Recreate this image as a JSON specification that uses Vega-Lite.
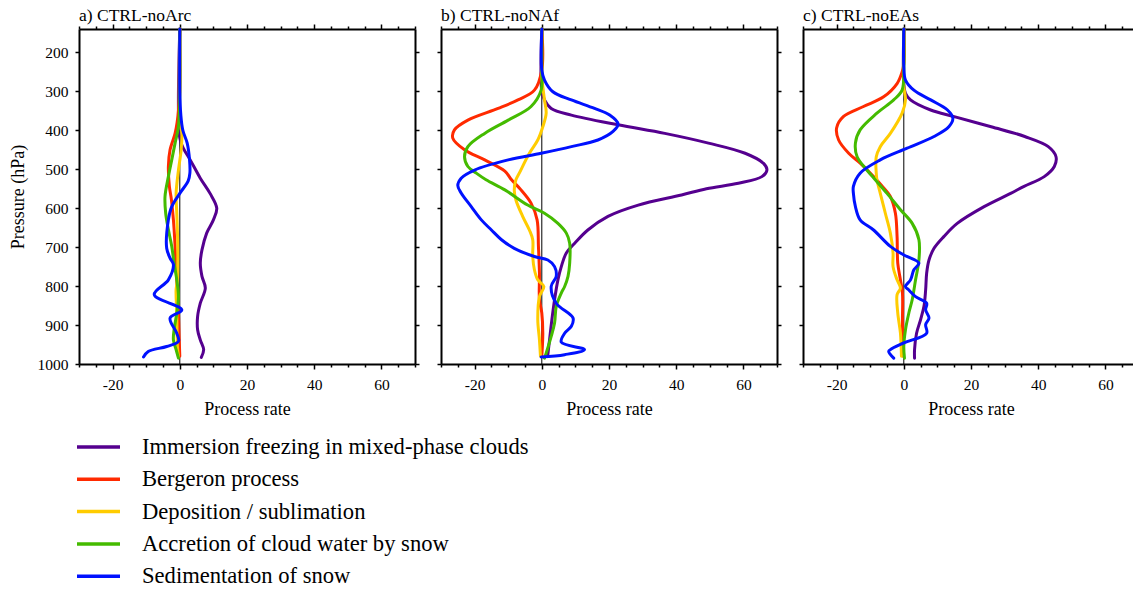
{
  "$schema": "https://vega.github.io/schema/vega-lite/v6.json",
  "background": "white",
  "padding": {"left": 9, "top": 6, "right": 0, "bottom": 0},
  "config": {
    "font": "Liberation Serif",
    "view": {"stroke": null},
    "title": {"font": "Liberation Serif", "fontSize": 17.5, "fontWeight": "normal", "anchor": "start", "frame": "group", "color": "black", "offset": -1},
    "axis": {"grid": false, "domainColor": "black", "domainWidth": 2, "tickColor": "black", "tickWidth": 1.5, "labelFont": "Liberation Serif", "labelFontSize": 15.5, "labelColor": "black", "titleFont": "Liberation Serif", "titleFontSize": 18, "titleFontWeight": "normal", "titleColor": "black", "labelOverlap": false},
    "legend": {"orient": "none", "legendX": -4, "legendY": 406, "symbolType": "stroke", "symbolSize": 1849, "symbolStrokeWidth": 3.5, "labelFont": "Liberation Serif", "labelFontSize": 22.6, "labelColor": "black", "labelOffset": 20, "clipHeight": 24, "rowPadding": 8.3, "labelLimit": 600}
  },
  "datasets": {
    "d": [
      {"k":"a","s":"IMM","p":140,"v":0},{"k":"a","s":"IMM","p":420,"v":0},{"k":"a","s":"IMM","p":445,"v":1},{"k":"a","s":"IMM","p":476,"v":3.1},{"k":"a","s":"IMM","p":523,"v":6.1},{"k":"a","s":"IMM","p":562,"v":9},{"k":"a","s":"IMM","p":600,"v":11},{"k":"a","s":"IMM","p":630,"v":10},{"k":"a","s":"IMM","p":664,"v":8},{"k":"a","s":"IMM","p":707,"v":6.6},{"k":"a","s":"IMM","p":741,"v":6.1},{"k":"a","s":"IMM","p":775,"v":6.6},{"k":"a","s":"IMM","p":805,"v":7.6},{"k":"a","s":"IMM","p":844,"v":6.1},{"k":"a","s":"IMM","p":878,"v":5.3},{"k":"a","s":"IMM","p":912,"v":5.3},{"k":"a","s":"IMM","p":938,"v":6.1},{"k":"a","s":"IMM","p":963,"v":7.1},{"k":"a","s":"IMM","p":983,"v":6.4},
      {"k":"a","s":"BER","p":140,"v":0},{"k":"a","s":"BER","p":300,"v":0},{"k":"a","s":"BER","p":340,"v":-0.3},{"k":"a","s":"BER","p":380,"v":-0.8},{"k":"a","s":"BER","p":408,"v":-1.4},{"k":"a","s":"BER","p":450,"v":-2.9},{"k":"a","s":"BER","p":493,"v":-3.4},{"k":"a","s":"BER","p":544,"v":-3.1},{"k":"a","s":"BER","p":578,"v":-2.5},{"k":"a","s":"BER","p":630,"v":-1.9},{"k":"a","s":"BER","p":698,"v":-1.4},{"k":"a","s":"BER","p":784,"v":-0.9},{"k":"a","s":"BER","p":869,"v":-0.4},{"k":"a","s":"BER","p":929,"v":-0.2},{"k":"a","s":"BER","p":980,"v":0},
      {"k":"a","s":"DEP","p":140,"v":0},{"k":"a","s":"DEP","p":373,"v":0},{"k":"a","s":"DEP","p":408,"v":0.6},{"k":"a","s":"DEP","p":450,"v":0.4},{"k":"a","s":"DEP","p":502,"v":-0.4},{"k":"a","s":"DEP","p":562,"v":-1.1},{"k":"a","s":"DEP","p":613,"v":-0.9},{"k":"a","s":"DEP","p":698,"v":-0.6},{"k":"a","s":"DEP","p":784,"v":-0.7},{"k":"a","s":"DEP","p":809,"v":-1.1},{"k":"a","s":"DEP","p":869,"v":-0.9},{"k":"a","s":"DEP","p":955,"v":-0.7},{"k":"a","s":"DEP","p":980,"v":-0.4},
      {"k":"a","s":"ACC","p":140,"v":0},{"k":"a","s":"ACC","p":305,"v":0},{"k":"a","s":"ACC","p":390,"v":-0.4},{"k":"a","s":"ACC","p":433,"v":-1.4},{"k":"a","s":"ACC","p":476,"v":-2.4},{"k":"a","s":"ACC","p":519,"v":-3.4},{"k":"a","s":"ACC","p":570,"v":-4.4},{"k":"a","s":"ACC","p":613,"v":-4.2},{"k":"a","s":"ACC","p":655,"v":-3.4},{"k":"a","s":"ACC","p":698,"v":-2.4},{"k":"a","s":"ACC","p":741,"v":-1.7},{"k":"a","s":"ACC","p":784,"v":-0.9},{"k":"a","s":"ACC","p":827,"v":-0.4},{"k":"a","s":"ACC","p":869,"v":-0.9},{"k":"a","s":"ACC","p":912,"v":-1.7},{"k":"a","s":"ACC","p":938,"v":-1.9},{"k":"a","s":"ACC","p":963,"v":-1.1},{"k":"a","s":"ACC","p":985,"v":-0.4},
      {"k":"a","s":"SED","p":140,"v":0},{"k":"a","s":"SED","p":300,"v":0},{"k":"a","s":"SED","p":360,"v":0.3},{"k":"a","s":"SED","p":400,"v":0.9},{"k":"a","s":"SED","p":433,"v":2.2},{"k":"a","s":"SED","p":476,"v":2.9},{"k":"a","s":"SED","p":510,"v":3},{"k":"a","s":"SED","p":530,"v":2.5},{"k":"a","s":"SED","p":562,"v":0},{"k":"a","s":"SED","p":596,"v":-2.4},{"k":"a","s":"SED","p":630,"v":-3.4},{"k":"a","s":"SED","p":703,"v":-3.9},{"k":"a","s":"SED","p":728,"v":-2.9},{"k":"a","s":"SED","p":745,"v":-1.9},{"k":"a","s":"SED","p":784,"v":-3.4},{"k":"a","s":"SED","p":822,"v":-7.6},{"k":"a","s":"SED","p":861,"v":0.6},{"k":"a","s":"SED","p":882,"v":-2.9},{"k":"a","s":"SED","p":921,"v":-0.9},{"k":"a","s":"SED","p":942,"v":-0.4},{"k":"a","s":"SED","p":955,"v":-3.9},{"k":"a","s":"SED","p":968,"v":-9.4},{"k":"a","s":"SED","p":982,"v":-10.8},

      {"k":"b","s":"IMM","p":140,"v":0},{"k":"b","s":"IMM","p":300,"v":0},{"k":"b","s":"IMM","p":322,"v":0.8},{"k":"b","s":"IMM","p":344,"v":2.8},{"k":"b","s":"IMM","p":361,"v":8.8},{"k":"b","s":"IMM","p":386,"v":22.7},{"k":"b","s":"IMM","p":408,"v":36.6},{"k":"b","s":"IMM","p":433,"v":49.6},{"k":"b","s":"IMM","p":459,"v":60.5},{"k":"b","s":"IMM","p":485,"v":66},{"k":"b","s":"IMM","p":502,"v":67},{"k":"b","s":"IMM","p":519,"v":65.5},{"k":"b","s":"IMM","p":536,"v":58.5},{"k":"b","s":"IMM","p":550,"v":49},{"k":"b","s":"IMM","p":566,"v":41.6},{"k":"b","s":"IMM","p":592,"v":28.7},{"k":"b","s":"IMM","p":621,"v":19.7},{"k":"b","s":"IMM","p":656,"v":13.7},{"k":"b","s":"IMM","p":690,"v":9.8},{"k":"b","s":"IMM","p":715,"v":7.3},{"k":"b","s":"IMM","p":750,"v":5.8},{"k":"b","s":"IMM","p":784,"v":4.8},{"k":"b","s":"IMM","p":835,"v":3.8},{"k":"b","s":"IMM","p":886,"v":3},{"k":"b","s":"IMM","p":938,"v":2.3},{"k":"b","s":"IMM","p":976,"v":1.8},
      {"k":"b","s":"BER","p":140,"v":0},{"k":"b","s":"BER","p":245,"v":0},{"k":"b","s":"BER","p":297,"v":-2.2},{"k":"b","s":"BER","p":322,"v":-7.1},{"k":"b","s":"BER","p":344,"v":-13},{"k":"b","s":"BER","p":374,"v":-22},{"k":"b","s":"BER","p":399,"v":-26},{"k":"b","s":"BER","p":420,"v":-26.5},{"k":"b","s":"BER","p":450,"v":-23},{"k":"b","s":"BER","p":476,"v":-17},{"k":"b","s":"BER","p":505,"v":-11},{"k":"b","s":"BER","p":527,"v":-9},{"k":"b","s":"BER","p":553,"v":-6.2},{"k":"b","s":"BER","p":587,"v":-3.2},{"k":"b","s":"BER","p":630,"v":-1.4},{"k":"b","s":"BER","p":698,"v":-1},{"k":"b","s":"BER","p":767,"v":-0.7},{"k":"b","s":"BER","p":835,"v":-0.7},{"k":"b","s":"BER","p":869,"v":0},{"k":"b","s":"BER","p":921,"v":0.3},{"k":"b","s":"BER","p":980,"v":0},
      {"k":"b","s":"DEP","p":140,"v":0},{"k":"b","s":"DEP","p":260,"v":0},{"k":"b","s":"DEP","p":288,"v":0.3},{"k":"b","s":"DEP","p":322,"v":0.8},{"k":"b","s":"DEP","p":356,"v":1.3},{"k":"b","s":"DEP","p":391,"v":0.3},{"k":"b","s":"DEP","p":425,"v":-1.2},{"k":"b","s":"DEP","p":459,"v":-3.7},{"k":"b","s":"DEP","p":510,"v":-6.7},{"k":"b","s":"DEP","p":527,"v":-7.7},{"k":"b","s":"DEP","p":553,"v":-8.2},{"k":"b","s":"DEP","p":579,"v":-7.7},{"k":"b","s":"DEP","p":621,"v":-5.7},{"k":"b","s":"DEP","p":656,"v":-3.7},{"k":"b","s":"DEP","p":681,"v":-2.7},{"k":"b","s":"DEP","p":724,"v":-2.7},{"k":"b","s":"DEP","p":758,"v":-2.2},{"k":"b","s":"DEP","p":784,"v":-1.2},{"k":"b","s":"DEP","p":801,"v":0.6},{"k":"b","s":"DEP","p":827,"v":-0.7},{"k":"b","s":"DEP","p":886,"v":-1.2},{"k":"b","s":"DEP","p":938,"v":-0.7},{"k":"b","s":"DEP","p":980,"v":-0.4},
      {"k":"b","s":"ACC","p":140,"v":0},{"k":"b","s":"ACC","p":245,"v":0},{"k":"b","s":"ACC","p":297,"v":-0.2},{"k":"b","s":"ACC","p":339,"v":-3.2},{"k":"b","s":"ACC","p":374,"v":-10},{"k":"b","s":"ACC","p":408,"v":-17},{"k":"b","s":"ACC","p":442,"v":-22},{"k":"b","s":"ACC","p":468,"v":-23},{"k":"b","s":"ACC","p":493,"v":-22},{"k":"b","s":"ACC","p":510,"v":-19.5},{"k":"b","s":"ACC","p":527,"v":-16.6},{"k":"b","s":"ACC","p":553,"v":-11},{"k":"b","s":"ACC","p":592,"v":-4.2},{"k":"b","s":"ACC","p":613,"v":0.8},{"k":"b","s":"ACC","p":639,"v":4.8},{"k":"b","s":"ACC","p":664,"v":7.3},{"k":"b","s":"ACC","p":690,"v":8.3},{"k":"b","s":"ACC","p":741,"v":8.3},{"k":"b","s":"ACC","p":775,"v":7.8},{"k":"b","s":"ACC","p":801,"v":6.8},{"k":"b","s":"ACC","p":818,"v":5.8},{"k":"b","s":"ACC","p":852,"v":4.3},{"k":"b","s":"ACC","p":895,"v":3.8},{"k":"b","s":"ACC","p":929,"v":2.8},{"k":"b","s":"ACC","p":972,"v":1.3},{"k":"b","s":"ACC","p":985,"v":0.8},
      {"k":"b","s":"SED","p":140,"v":0},{"k":"b","s":"SED","p":245,"v":0},{"k":"b","s":"SED","p":271,"v":0.8},{"k":"b","s":"SED","p":301,"v":3.3},{"k":"b","s":"SED","p":322,"v":8.8},{"k":"b","s":"SED","p":344,"v":15.7},{"k":"b","s":"SED","p":361,"v":20.2},{"k":"b","s":"SED","p":384,"v":22.7},{"k":"b","s":"SED","p":403,"v":21.2},{"k":"b","s":"SED","p":425,"v":16.7},{"k":"b","s":"SED","p":442,"v":8.8},{"k":"b","s":"SED","p":459,"v":-0.2},{"k":"b","s":"SED","p":476,"v":-10},{"k":"b","s":"SED","p":502,"v":-20},{"k":"b","s":"SED","p":523,"v":-24},{"k":"b","s":"SED","p":542,"v":-25},{"k":"b","s":"SED","p":561,"v":-24},{"k":"b","s":"SED","p":596,"v":-21},{"k":"b","s":"SED","p":630,"v":-18},{"k":"b","s":"SED","p":656,"v":-15},{"k":"b","s":"SED","p":681,"v":-12},{"k":"b","s":"SED","p":703,"v":-8.2},{"k":"b","s":"SED","p":724,"v":-2.2},{"k":"b","s":"SED","p":733,"v":1.8},{"k":"b","s":"SED","p":750,"v":3.8},{"k":"b","s":"SED","p":775,"v":4.3},{"k":"b","s":"SED","p":801,"v":2.8},{"k":"b","s":"SED","p":844,"v":4.3},{"k":"b","s":"SED","p":882,"v":9.3},{"k":"b","s":"SED","p":903,"v":8.8},{"k":"b","s":"SED","p":921,"v":6.8},{"k":"b","s":"SED","p":944,"v":5.8},{"k":"b","s":"SED","p":963,"v":12.7},{"k":"b","s":"SED","p":976,"v":6.8},{"k":"b","s":"SED","p":982,"v":-0.2},

      {"k":"c","s":"IMM","p":140,"v":0},{"k":"c","s":"IMM","p":280,"v":0},{"k":"c","s":"IMM","p":305,"v":0.5},{"k":"c","s":"IMM","p":322,"v":2},{"k":"c","s":"IMM","p":348,"v":8},{"k":"c","s":"IMM","p":365,"v":15},{"k":"c","s":"IMM","p":391,"v":26},{"k":"c","s":"IMM","p":416,"v":36},{"k":"c","s":"IMM","p":442,"v":43},{"k":"c","s":"IMM","p":468,"v":45.3},{"k":"c","s":"IMM","p":493,"v":44.8},{"k":"c","s":"IMM","p":519,"v":41.8},{"k":"c","s":"IMM","p":544,"v":35.8},{"k":"c","s":"IMM","p":562,"v":31.8},{"k":"c","s":"IMM","p":596,"v":23.9},{"k":"c","s":"IMM","p":639,"v":15.9},{"k":"c","s":"IMM","p":673,"v":11.9},{"k":"c","s":"IMM","p":703,"v":9},{"k":"c","s":"IMM","p":733,"v":7.5},{"k":"c","s":"IMM","p":767,"v":6.8},{"k":"c","s":"IMM","p":810,"v":6.5},{"k":"c","s":"IMM","p":852,"v":6},{"k":"c","s":"IMM","p":886,"v":5},{"k":"c","s":"IMM","p":921,"v":3.8},{"k":"c","s":"IMM","p":963,"v":3.2},{"k":"c","s":"IMM","p":985,"v":3.2},
      {"k":"c","s":"BER","p":140,"v":0},{"k":"c","s":"BER","p":230,"v":0},{"k":"c","s":"BER","p":250,"v":-0.5},{"k":"c","s":"BER","p":280,"v":-2},{"k":"c","s":"BER","p":314,"v":-6},{"k":"c","s":"BER","p":339,"v":-12},{"k":"c","s":"BER","p":365,"v":-18},{"k":"c","s":"BER","p":394,"v":-20},{"k":"c","s":"BER","p":425,"v":-19.4},{"k":"c","s":"BER","p":459,"v":-16.4},{"k":"c","s":"BER","p":485,"v":-12.9},{"k":"c","s":"BER","p":519,"v":-9},{"k":"c","s":"BER","p":540,"v":-6.8},{"k":"c","s":"BER","p":570,"v":-4},{"k":"c","s":"BER","p":613,"v":-2.5},{"k":"c","s":"BER","p":673,"v":-2},{"k":"c","s":"BER","p":741,"v":-1.8},{"k":"c","s":"BER","p":784,"v":-1},{"k":"c","s":"BER","p":818,"v":-0.4},{"k":"c","s":"BER","p":895,"v":-0.4},{"k":"c","s":"BER","p":980,"v":-0.2},
      {"k":"c","s":"DEP","p":140,"v":0},{"k":"c","s":"DEP","p":288,"v":0},{"k":"c","s":"DEP","p":322,"v":0.5},{"k":"c","s":"DEP","p":356,"v":-0.5},{"k":"c","s":"DEP","p":408,"v":-4},{"k":"c","s":"DEP","p":442,"v":-7},{"k":"c","s":"DEP","p":468,"v":-8.2},{"k":"c","s":"DEP","p":510,"v":-8.2},{"k":"c","s":"DEP","p":527,"v":-8},{"k":"c","s":"DEP","p":562,"v":-7},{"k":"c","s":"DEP","p":613,"v":-5.5},{"k":"c","s":"DEP","p":664,"v":-4},{"k":"c","s":"DEP","p":715,"v":-3.2},{"k":"c","s":"DEP","p":750,"v":-3.2},{"k":"c","s":"DEP","p":784,"v":-2},{"k":"c","s":"DEP","p":805,"v":-1},{"k":"c","s":"DEP","p":822,"v":-2},{"k":"c","s":"DEP","p":869,"v":-1.8},{"k":"c","s":"DEP","p":921,"v":-1},{"k":"c","s":"DEP","p":980,"v":-0.7},
      {"k":"c","s":"ACC","p":140,"v":0},{"k":"c","s":"ACC","p":245,"v":0},{"k":"c","s":"ACC","p":297,"v":-0.5},{"k":"c","s":"ACC","p":322,"v":-3},{"k":"c","s":"ACC","p":356,"v":-8},{"k":"c","s":"ACC","p":399,"v":-13},{"k":"c","s":"ACC","p":433,"v":-14.4},{"k":"c","s":"ACC","p":468,"v":-13.9},{"k":"c","s":"ACC","p":502,"v":-11},{"k":"c","s":"ACC","p":527,"v":-8.5},{"k":"c","s":"ACC","p":562,"v":-5},{"k":"c","s":"ACC","p":604,"v":-1},{"k":"c","s":"ACC","p":639,"v":2.5},{"k":"c","s":"ACC","p":681,"v":4.5},{"k":"c","s":"ACC","p":733,"v":4.5},{"k":"c","s":"ACC","p":784,"v":3.5},{"k":"c","s":"ACC","p":835,"v":2.5},{"k":"c","s":"ACC","p":869,"v":1.5},{"k":"c","s":"ACC","p":912,"v":0.5},{"k":"c","s":"ACC","p":955,"v":0},{"k":"c","s":"ACC","p":985,"v":0.2},
      {"k":"c","s":"SED","p":140,"v":0},{"k":"c","s":"SED","p":237,"v":0},{"k":"c","s":"SED","p":271,"v":0.5},{"k":"c","s":"SED","p":297,"v":3},{"k":"c","s":"SED","p":322,"v":8},{"k":"c","s":"SED","p":348,"v":13},{"k":"c","s":"SED","p":369,"v":14.6},{"k":"c","s":"SED","p":391,"v":13.4},{"k":"c","s":"SED","p":416,"v":9},{"k":"c","s":"SED","p":446,"v":1},{"k":"c","s":"SED","p":476,"v":-7},{"k":"c","s":"SED","p":510,"v":-13},{"k":"c","s":"SED","p":544,"v":-15},{"k":"c","s":"SED","p":562,"v":-15},{"k":"c","s":"SED","p":596,"v":-14.4},{"k":"c","s":"SED","p":630,"v":-13},{"k":"c","s":"SED","p":656,"v":-9},{"k":"c","s":"SED","p":698,"v":-4},{"k":"c","s":"SED","p":720,"v":0},{"k":"c","s":"SED","p":741,"v":4.5},{"k":"c","s":"SED","p":758,"v":3},{"k":"c","s":"SED","p":784,"v":2},{"k":"c","s":"SED","p":801,"v":0.5},{"k":"c","s":"SED","p":810,"v":1.5},{"k":"c","s":"SED","p":827,"v":3.5},{"k":"c","s":"SED","p":844,"v":6.8},{"k":"c","s":"SED","p":861,"v":6.5},{"k":"c","s":"SED","p":882,"v":7.5},{"k":"c","s":"SED","p":899,"v":6.5},{"k":"c","s":"SED","p":921,"v":6.8},{"k":"c","s":"SED","p":946,"v":0},{"k":"c","s":"SED","p":963,"v":-4},{"k":"c","s":"SED","p":968,"v":-4.5},{"k":"c","s":"SED","p":985,"v":-3}
    ]
  },
  "spacing": 26,
  "bounds": "flush",
  "hconcat": [
    {
      "width": 336, "height": 335,
      "title": {"text": "a) CTRL-noArc"},
      "resolve": {"axis": {"x": "independent", "y": "independent"}},
      "layer": [
        {
          "data": {"values": [{}]},
          "mark": {"type": "rule", "color": "black", "strokeWidth": 1},
          "encoding": {
            "x": {"datum": 0, "type": "quantitative", "scale": {"domain": [-30, 70], "nice": false, "zero": false},
                  "axis": {"orient": "bottom", "title": "Process rate", "values": [-30,-25,-20,-15,-10,-5,0,5,10,15,20,25,30,35,40,45,50,55,60,65,70], "labelExpr": "datum.value % 20 === 0 ? '' + datum.value : ''", "labelFont": "Liberation Serif", "titleFont": "Liberation Serif", "tickSize": {"condition": {"test": "datum.value % 20 === 0", "value": 5}, "value": 3}, "labelPadding": 8, "titlePadding": 8, "labelFlush": false}},
            "y": {"datum": 140, "type": "quantitative", "scale": {"domain": [140, 1000], "reverse": true, "nice": false, "zero": false},
                  "axis": {"orient": "right", "labels": false, "title": null, "values": [200,300,400,500,600,700,800,900,1000], "tickSize": 4}},
            "y2": {"datum": 1000}
          }
        },
        {
          "data": {"name": "d"},
          "transform": [{"filter": "datum.k === 'a'"}],
          "mark": {"type": "line", "strokeWidth": 3, "interpolate": "catmull-rom", "strokeJoin": "round", "strokeCap": "round"},
          "encoding": {
            "x": {"field": "v", "type": "quantitative",
                  "axis": {"orient": "top", "labels": false, "title": null, "values": [-30,-25,-20,-15,-10,-5,0,5,10,15,20,25,30,35,40,45,50,55,60,65,70], "tickSize": {"condition": {"test": "datum.value % 20 === 0", "value": 5}, "value": 3}}},
            "y": {"field": "p", "type": "quantitative",
                  "axis": {"orient": "left", "title": "Pressure (hPa)", "format": "d", "labelFont": "Liberation Serif", "titleFont": "Liberation Serif", "values": [200,300,400,500,600,700,800,900,1000], "tickSize": 4, "labelPadding": 7, "titlePadding": 10}},
            "order": {"field": "p", "type": "quantitative"},
            "color": {"field": "s", "type": "nominal",
                      "scale": {"domain": ["IMM","BER","DEP","ACC","SED"], "range": ["#55008f","#ff2a00","#ffcc00","#44bb00","#0011ff"]},
                      "legend": {"title": null, "labelExpr": "({'IMM':'Immersion freezing in mixed-phase clouds','BER':'Bergeron process','DEP':'Deposition / sublimation','ACC':'Accretion of cloud water by snow','SED':'Sedimentation of snow'})[datum.label]"}}
          }
        }
      ]
    },
    {
      "width": 336, "height": 335,
      "title": {"text": "b) CTRL-noNAf"},
      "resolve": {"axis": {"x": "independent", "y": "independent"}},
      "layer": [
        {
          "data": {"values": [{}]},
          "mark": {"type": "rule", "color": "black", "strokeWidth": 1},
          "encoding": {
            "x": {"datum": 0, "type": "quantitative", "scale": {"domain": [-30, 70], "nice": false, "zero": false},
                  "axis": {"orient": "bottom", "title": "Process rate", "values": [-30,-25,-20,-15,-10,-5,0,5,10,15,20,25,30,35,40,45,50,55,60,65,70], "labelExpr": "datum.value % 20 === 0 ? '' + datum.value : ''", "labelFont": "Liberation Serif", "titleFont": "Liberation Serif", "tickSize": {"condition": {"test": "datum.value % 20 === 0", "value": 5}, "value": 3}, "labelPadding": 8, "titlePadding": 8, "labelFlush": false}},
            "y": {"datum": 140, "type": "quantitative", "scale": {"domain": [140, 1000], "reverse": true, "nice": false, "zero": false},
                  "axis": {"orient": "right", "labels": false, "title": null, "values": [200,300,400,500,600,700,800,900,1000], "tickSize": 4}},
            "y2": {"datum": 1000}
          }
        },
        {
          "data": {"name": "d"},
          "transform": [{"filter": "datum.k === 'b'"}],
          "mark": {"type": "line", "strokeWidth": 3, "interpolate": "catmull-rom", "strokeJoin": "round", "strokeCap": "round"},
          "encoding": {
            "x": {"field": "v", "type": "quantitative",
                  "axis": {"orient": "top", "labels": false, "title": null, "values": [-30,-25,-20,-15,-10,-5,0,5,10,15,20,25,30,35,40,45,50,55,60,65,70], "tickSize": {"condition": {"test": "datum.value % 20 === 0", "value": 5}, "value": 3}}},
            "y": {"field": "p", "type": "quantitative",
                  "axis": {"orient": "left", "labels": false, "title": null, "values": [200,300,400,500,600,700,800,900,1000], "tickSize": 4}},
            "order": {"field": "p", "type": "quantitative"},
            "color": {"field": "s", "type": "nominal",
                      "scale": {"domain": ["IMM","BER","DEP","ACC","SED"], "range": ["#55008f","#ff2a00","#ffcc00","#44bb00","#0011ff"]},
                      "legend": {"title": null, "labelExpr": "({'IMM':'Immersion freezing in mixed-phase clouds','BER':'Bergeron process','DEP':'Deposition / sublimation','ACC':'Accretion of cloud water by snow','SED':'Sedimentation of snow'})[datum.label]"}}
          }
        }
      ]
    },
    {
      "width": 336, "height": 335,
      "title": {"text": "c) CTRL-noEAs"},
      "resolve": {"axis": {"x": "independent", "y": "independent"}},
      "layer": [
        {
          "data": {"values": [{}]},
          "mark": {"type": "rule", "color": "black", "strokeWidth": 1},
          "encoding": {
            "x": {"datum": 0, "type": "quantitative", "scale": {"domain": [-30, 70], "nice": false, "zero": false},
                  "axis": {"orient": "bottom", "title": "Process rate", "values": [-30,-25,-20,-15,-10,-5,0,5,10,15,20,25,30,35,40,45,50,55,60,65,70], "labelExpr": "datum.value % 20 === 0 ? '' + datum.value : ''", "labelFont": "Liberation Serif", "titleFont": "Liberation Serif", "tickSize": {"condition": {"test": "datum.value % 20 === 0", "value": 5}, "value": 3}, "labelPadding": 8, "titlePadding": 8, "labelFlush": false}},
            "y": {"datum": 140, "type": "quantitative", "scale": {"domain": [140, 1000], "reverse": true, "nice": false, "zero": false},
                  "axis": {"orient": "right", "labels": false, "title": null, "values": [200,300,400,500,600,700,800,900,1000], "tickSize": 4}},
            "y2": {"datum": 1000}
          }
        },
        {
          "data": {"name": "d"},
          "transform": [{"filter": "datum.k === 'c'"}],
          "mark": {"type": "line", "strokeWidth": 3, "interpolate": "catmull-rom", "strokeJoin": "round", "strokeCap": "round"},
          "encoding": {
            "x": {"field": "v", "type": "quantitative",
                  "axis": {"orient": "top", "labels": false, "title": null, "values": [-30,-25,-20,-15,-10,-5,0,5,10,15,20,25,30,35,40,45,50,55,60,65,70], "tickSize": {"condition": {"test": "datum.value % 20 === 0", "value": 5}, "value": 3}}},
            "y": {"field": "p", "type": "quantitative",
                  "axis": {"orient": "left", "labels": false, "title": null, "values": [200,300,400,500,600,700,800,900,1000], "tickSize": 4}},
            "order": {"field": "p", "type": "quantitative"},
            "color": {"field": "s", "type": "nominal",
                      "scale": {"domain": ["IMM","BER","DEP","ACC","SED"], "range": ["#55008f","#ff2a00","#ffcc00","#44bb00","#0011ff"]},
                      "legend": {"title": null, "labelExpr": "({'IMM':'Immersion freezing in mixed-phase clouds','BER':'Bergeron process','DEP':'Deposition / sublimation','ACC':'Accretion of cloud water by snow','SED':'Sedimentation of snow'})[datum.label]"}}
          }
        }
      ]
    }
  ]
}
